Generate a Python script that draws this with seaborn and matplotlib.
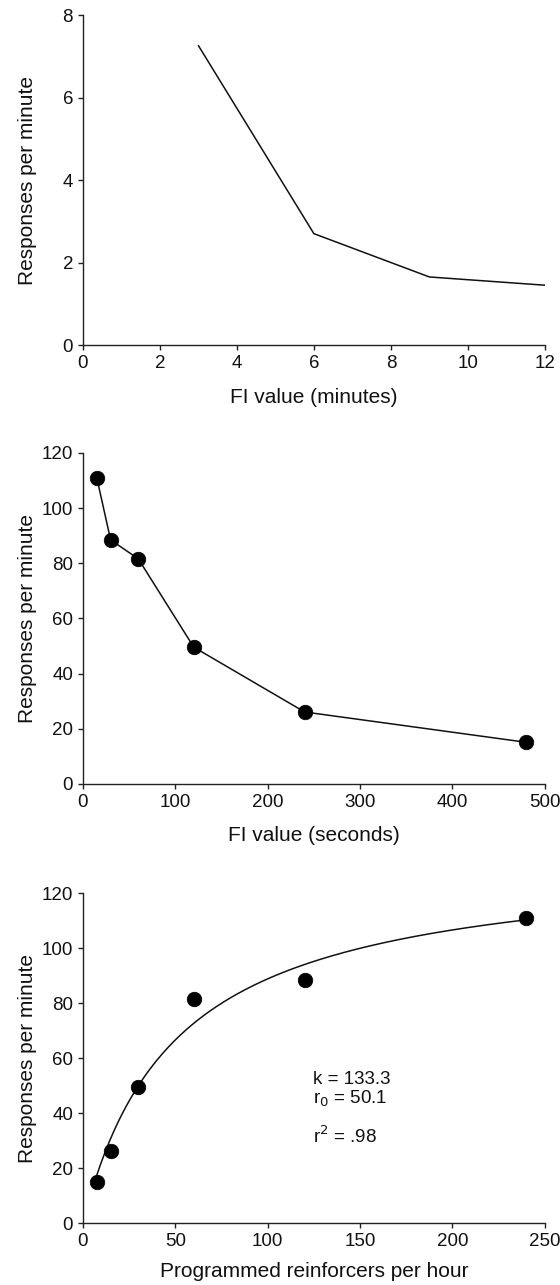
import numpy as np
import pandas as pd
import matplotlib
matplotlib.use("Agg")
import matplotlib.pyplot as plt
import seaborn as sns

# Panel A: response rate across FI values in minutes
fi_minutes = [3, 6, 9, 12]
rate_minutes = [7.26, 2.70, 1.65, 1.45]

# Panel B: response rate across FI values in seconds
fi_seconds = [15, 30, 60, 120, 240, 480]
rate_seconds = [111.1, 88.5, 81.6, 49.6, 26.1, 15.1]

# Panel C: same rates against programmed reinforcers per hour, with hyperbola fit
reinf_per_hour = [240, 120, 60, 30, 15, 7.5]
rate_reinf = [111.1, 88.5, 81.6, 49.6, 26.1, 15.1]
k_fit = 133.3
r0_fit = 50.1
r2_fit = 0.98

sns.set_style("ticks")
plt.rcParams["font.family"] = ["Liberation Sans", "DejaVu Sans"]
plt.rcParams["axes.linewidth"] = 1.0
plt.rcParams["xtick.major.size"] = 3.6
plt.rcParams["ytick.major.size"] = 3.6
plt.rcParams["xtick.major.width"] = 1.0
plt.rcParams["ytick.major.width"] = 1.0
plt.rcParams["xtick.color"] = "#222222"
plt.rcParams["ytick.color"] = "#222222"

fig = plt.figure(figsize=(5.6, 12.85), dpi=100)
left, width = 0.148, 0.825
ax1 = fig.add_axes([left, 0.7315, width, 0.2568])
ax2 = fig.add_axes([left, 0.3899, width, 0.2576])
ax3 = fig.add_axes([left, 0.0482, width, 0.2568])

label_fs = 15
tick_fs = 13.5
ink = "#111111"
dot_size = 110

# Panel A
dfa = pd.DataFrame({"fi": fi_minutes, "rate": rate_minutes})
sns.lineplot(data=dfa, x="fi", y="rate", ax=ax1, color=ink, lw=1.1)
ax1.set_xlim(0, 12)
ax1.set_ylim(0, 8)
ax1.set_xticks(range(0, 13, 2))
ax1.set_yticks(range(0, 9, 2))
ax1.set_xlabel("FI value (minutes)")

# Panel B
dfb = pd.DataFrame({"fi": fi_seconds, "rate": rate_seconds})
sns.lineplot(data=dfb, x="fi", y="rate", ax=ax2, color=ink, lw=1.1)
sns.scatterplot(data=dfb, x="fi", y="rate", ax=ax2, color="black", s=dot_size,
                edgecolor="black", linewidth=0.5, zorder=3)
ax2.set_xlim(0, 500)
ax2.set_ylim(0, 120)
ax2.set_xticks(range(0, 501, 100))
ax2.set_yticks(range(0, 121, 20))
ax2.set_xlabel("FI value (seconds)")

# Panel C
dfc = pd.DataFrame({"r": reinf_per_hour, "rate": rate_reinf})
r_grid = np.linspace(min(reinf_per_hour), max(reinf_per_hour), 300)
dfit = pd.DataFrame({"r": r_grid, "rate": k_fit * r_grid / (r_grid + r0_fit)})
sns.lineplot(data=dfit, x="r", y="rate", ax=ax3, color=ink, lw=1.1)
sns.scatterplot(data=dfc, x="r", y="rate", ax=ax3, color="black", s=dot_size,
                edgecolor="black", linewidth=0.5, zorder=3)
ax3.set_xlim(0, 250)
ax3.set_ylim(0, 120)
ax3.set_xticks(range(0, 251, 50))
ax3.set_yticks(range(0, 121, 20))
ax3.set_xlabel("Programmed reinforcers per hour")
ax3.text(124.5, 52.3, f"k = {k_fit}", fontsize=13.5, va="center", color=ink)
ax3.text(124.5, 45.0, f"r$_0$ = {r0_fit}", fontsize=13.5, va="center", color=ink)
ax3.text(124.5, 31.5, f"r$^2$ = {str(r2_fit)[1:]}", fontsize=13.5, va="center", color=ink)

xlabel_y = {ax1: -0.158, ax2: -0.155, ax3: -0.147}
for ax in (ax1, ax2, ax3):
    sns.despine(ax=ax)
    ax.set_ylabel("Responses per minute", fontsize=label_fs, color=ink)
    ax.yaxis.set_label_coords(-0.119, 0.5)
    ax.yaxis.label.set_va("center")
    ax.xaxis.label.set_fontsize(label_fs)
    ax.xaxis.label.set_color(ink)
    ax.xaxis.set_label_coords(0.5, xlabel_y[ax])
    ax.xaxis.label.set_va("center")
    ax.tick_params(labelsize=tick_fs, labelcolor=ink)
    for s in ("left", "bottom"):
        ax.spines[s].set_color("#222222")

fig.savefig("out.png", dpi=100)
